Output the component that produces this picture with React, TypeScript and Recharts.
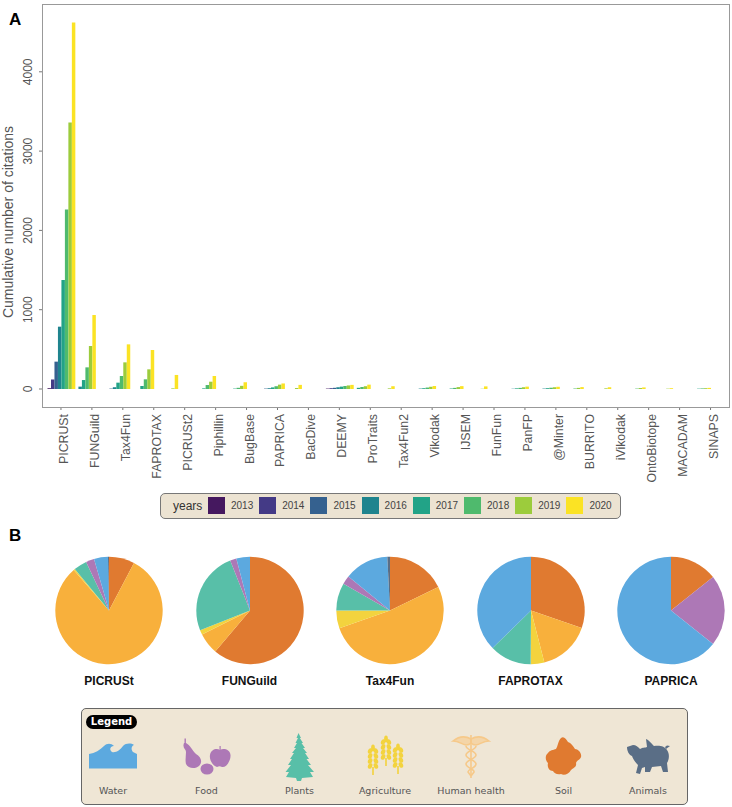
import { BarChart, Bar, XAxis, YAxis, Cell, PieChart, Pie } from "recharts";

const tools = [
  "PICRUSt", "FUNGuild", "Tax4Fun", "FAPROTAX", "PICRUSt2", "Piphillin", "BugBase", "PAPRICA",
  "BacDive", "DEEMY", "ProTraits", "Tax4Fun2", "Vikodak", "IJSEM", "FunFun", "PanFP",
  "@Minter", "BURRITO", "iVikodak", "OntoBiotope", "MACADAM", "SINAPS",
];
const firstYear = [
  2013, 2016, 2015, 2017, 2019, 2017, 2017, 2015, 2019, 2013, 2017, 2019, 2016, 2017, 2019, 2016,
  2016, 2018, 2019, 2018, 2019, 2017,
];
// cumulative citations per tool, one number per year from its first year on
const citations = [
  [10, 120, 345, 786, 1374, 2265, 3362, 4623],
  [30, 113, 273, 542, 933],
  [5, 22, 80, 164, 336, 563],
  [38, 122, 248, 492],
  [8, 177],
  [8, 50, 92, 164],
  [5, 15, 40, 85],
  [5, 10, 20, 35, 55, 70],
  [12, 52],
  [5, 10, 15, 22, 30, 38, 45, 52],
  [15, 25, 35, 55],
  [8, 35],
  [5, 10, 18, 28, 38],
  [6, 14, 24, 36],
  [3, 33],
  [4, 8, 14, 22, 30],
  [5, 10, 16, 22, 28],
  [6, 14, 24],
  [8, 22],
  [5, 12, 20],
  [4, 10],
  [4, 7, 10, 14],
];
const years = [2013, 2014, 2015, 2016, 2017, 2018, 2019, 2020];
const yearColors = ["#45185f", "#443a86", "#35618f", "#1f848e", "#22a387", "#4fba6d", "#9ccc3c", "#fbe324"];
const yTicks = [0, 1000, 2000, 3000, 4000];

const sources = ["Soil", "Human health", "Agriculture", "Plants", "Food", "Water", "Animals"];
const sourceColors: Record<string, string> = {
  Soil: "#e07a30",
  "Human health": "#f8b03c",
  Agriculture: "#f3d33e",
  Plants: "#58bfa8",
  Food: "#ad78b6",
  Water: "#5ca9df",
  Animals: "#5a6e86",
};
const pieNames = ["PICRUSt", "FUNGuild", "Tax4Fun", "FAPROTAX", "PAPRICA"];
const pieShares = [
  [7.7, 80.9, 0.4, 4, 2.5, 4.2, 0.3],
  [61.2, 6.4, 1.4, 25, 1.9, 4.1, 0],
  [17.8, 51.8, 5.4, 8.3, 2.6, 13.3, 0.8],
  [30.3, 15.7, 4.1, 12.6, 0, 37.3, 0],
  [14.3, 0, 0, 0, 21.4, 64.3, 0],
];

const slots = [0, 1, 2, 3, 4, 5, 6, 7];
const rows = tools.map((name, i) => {
  const row: Record<string, string | number> = { name };
  citations[i].forEach((v, k) => (row[`slot${k}`] = v));
  return row;
});

const SANS = "'Liberation Sans', Arial, sans-serif";
const GRAY = "#555";

function XTick({ x, y, payload }: any) {
  const tx = x + 7;
  const ty = y - 1;
  return (
    <g>
      <line x1={x} x2={x} y1={y - 8} y2={y - 5} stroke="#777" />
      <text x={tx} y={ty} transform={`rotate(-90 ${tx} ${ty})`} textAnchor="end" fontSize={12.3} fontFamily={SANS} fill={GRAY}>
        {payload.value}
      </text>
    </g>
  );
}

function YTick({ x, y, payload }: any) {
  const tx = x - 1.5;
  return (
    <g>
      <line x1={x + 5} x2={x + 8} y1={y} y2={y} stroke="#777" />
      <text x={tx} y={y} transform={`rotate(-90 ${tx} ${y})`} textAnchor="middle" fontSize={12} fontFamily={SANS} fill={GRAY}>
        {payload.value}
      </text>
    </g>
  );
}

const tag = (left: number, top: number, text: string) => (
  <div style={{ position: "absolute", left, top, font: `bold 17px ${SANS}`, color: "#000" }}>{text}</div>
);

function YearLegend() {
  return (
    <div
      style={{
        position: "absolute", left: 160, top: 493, width: 459, height: 24, background: "#ece3d2",
        border: "1px solid #777", borderRadius: 5,
      }}
    >
      <span style={{ position: "absolute", left: 12, top: 5, font: `12px ${SANS}`, color: "#333" }}>years</span>
      {years.map((yr, i) => (
        <div key={yr}>
          <div style={{ position: "absolute", left: 47 + i * 51.2, top: 3, width: 17, height: 17, background: yearColors[i] }} />
          <span style={{ position: "absolute", left: 70 + i * 51.2, top: 6, font: `10px ${SANS}`, color: "#444" }}>{yr}</span>
        </div>
      ))}
    </div>
  );
}

const legendLabels = [
  ["Water", 113], ["Food", 206.5], ["Plants", 299.5], ["Agriculture", 385],
  ["Human health", 471], ["Soil", 563.5], ["Animals", 648],
] as const;

function Wheat({ x, top }: { x: number; top: number }) {
  const rowsOfGrain = [6, 11, 16, 21];
  return (
    <g fill={sourceColors.Agriculture}>
      <ellipse cx={x} cy={top + 3} rx={1.9} ry={3.4} />
      {rowsOfGrain.map((d) => (
        <g key={d}>
          <ellipse cx={x - 2.9} cy={top + d} rx={2.1} ry={2.9} transform={`rotate(25 ${x - 2.9} ${top + d})`} />
          <ellipse cx={x + 2.9} cy={top + d} rx={2.1} ry={2.9} transform={`rotate(-25 ${x + 2.9} ${top + d})`} />
        </g>
      ))}
      <rect x={x - 0.8} y={top + 22} width={1.6} height={8} />
    </g>
  );
}

function LegendIcons() {
  const hh = "#f6c98a";
  return (
    <svg width={732} height={807} style={{ position: "absolute", left: 0, top: 0, pointerEvents: "none" }}>
      {/* water */}
      <path
        fill={sourceColors.Water}
        d="M89 768.5 L89 754 C95 753 100 750 104 746 C107 743 111 743 114 746 C110 746 109 750 112 752 C116 753 120 750 123 746 C126 743 131 743 134 745 C131 746 131 750 133 752 L137 754 L137 768.5 Z"
      />
      {/* food */}
      <g fill={sourceColors.Food}>
        <path d="M184 743 C182 748 186 749 186 752 C186 756 185 760 186 764 C188 769 196 769 199 766 C203 762 201 757 196 754 C192 750 190 745 186 743 Z" />
        <rect x={184.5} y={738.5} width={1.4} height={6} />
        <path d="M210 755 C211 749 217 748 220 750 C223 748 230 749 230.5 755 C231 761 226 768 222 767 C220 766 219 766 217 767 C213 766 209 760 210 755 Z" />
        <rect x={219.5} y={746} width={1.2} height={5} />
        <ellipse cx={207} cy={769} rx={6.5} ry={5.5} />
      </g>
      {/* plants */}
      <path
        fill={sourceColors.Plants}
        d="M298.5 733 L301 738 L299.8 738 L303 743 L301.5 743 L305 748 L303 748 L307 753 L305 753 L309 759 L306.5 759 L311 765 L308 765 L314 772 L310 772 L313 777 L302 778 L301 781 L297 781 L296 778 L286 777 L289 772 L285.5 772 L291 765 L288 765 L292 759 L290 759 L294 753 L292 753 L296 748 L294 748 L297 743 L295.5 743 L298 738 L296.5 738 Z"
      />
      {/* agriculture */}
      <Wheat x={373} top={745} />
      <Wheat x={386} top={736} />
      <Wheat x={398} top={744} />
      {/* human health */}
      <g fill="none" stroke={hh} strokeWidth={1.6}>
        <path d="M471 735 L471 778" />
        <path fill={hh} fillOpacity={0.6} d="M471 739 C464 735 458 737 453 741 C459 741 461 744 466 745 C468 745 470 744 471 743 Z" />
        <path fill={hh} fillOpacity={0.6} d="M471 739 C478 735 484 737 489 741 C483 741 481 744 476 745 C474 745 472 744 471 743 Z" />
        <path d="M466 746 C466 750 476 751 476 755 C476 759 466 760 466 764 C466 768 475 769 474 772 L471 776" />
        <path d="M476 746 C476 750 466 751 466 755 C466 759 476 760 476 764 C476 768 468 769 468 772 L471 776" />
      </g>
      {/* soil */}
      <path
        fill={sourceColors.Soil}
        d="M561 738 C564 736 566 739 568 742 C571 743 573 746 575 749 C578 749 582 753 581 757 C580 760 577 760 576 763 C577 767 573 768 571 770 C569 774 564 776 561 774 C557 775 554 773 553 771 C549 771 547 767 548 763 C545 760 545 755 548 753 C550 750 553 750 556 749 C558 746 558 741 561 738 Z"
      />
      {/* animals */}
      <g fill={sourceColors.Animals}>
        <path d="M627 747 L633 745 C636 745 638 747 640 749 C643 747 645 748 647 747 L646 739 C649 740 652 744 654 746 C659 745 665 746 667 750 C670 754 669 760 667 763 L668 772 L663 772 L661 766 L652 767 L650 772 L645 772 L645 767 L642 768 L640 774 L636 773 L638 765 C635 762 633 759 632 756 C629 755 627 751 627 747 Z" />
        <path d="M666 749 L670 746 L667 745.5 L665 747 Z" />
      </g>
    </svg>
  );
}

export default function App() {
  return (
    <div style={{ position: "absolute", left: 0, top: 0, width: 732, height: 807, background: "#fff", overflow: "hidden" }}>
      <div style={{ position: "absolute", left: 0, top: 0 }}>
        <BarChart
          width={732}
          height={520}
          data={rows}
          margin={{ top: 4, right: 3, left: 0, bottom: 0 }}
          barSize={3.48}
          barGap={0}
        >
          <XAxis
            dataKey="name"
            interval={0}
            height={113}
            axisLine={false}
            tickLine={false}
            tick={<XTick />}
            padding={{ left: 3.5, right: 3 }}
          />
          <YAxis
            width={42}
            domain={[-227, 4855]}
            ticks={yTicks}
            axisLine={false}
            tickLine={false}
            tick={<YTick />}
            allowDataOverflow
          />
          {slots.map((s) => (
            <Bar key={s} dataKey={`slot${s}`} isAnimationActive={false}>
              {tools.map((t, i) => (
                <Cell key={t} fill={yearColors[firstYear[i] - years[0] + s] ?? "#000"} />
              ))}
            </Bar>
          ))}
        </BarChart>
      </div>
      {/* panel frame */}
      <div style={{ position: "absolute", left: 42, top: 4, width: 686, height: 402, border: "1px solid #999", pointerEvents: "none" }} />
      <div
        style={{
          position: "absolute", left: 8, top: 222, transform: "translate(-50%, -50%) rotate(-90deg)",
          font: `14px ${SANS}`, color: GRAY, whiteSpace: "nowrap",
        }}
      >
        Cumulative number of citations
      </div>
      {tag(9, 10, "A")}
      {tag(9, 526, "B")}
      <YearLegend />

      {pieNames.map((name, i) => {
        const center = [109, 249.5, 390, 530.5, 671][i];
        const slices = sources.map((s, k) => ({ source: s, share: pieShares[i][k] }));
        return (
          <div key={name}>
            <div style={{ position: "absolute", left: center - 60, top: 550 }}>
              <PieChart width={120} height={120} margin={{ top: 0, right: 0, bottom: 0, left: 0 }}>
                <Pie
                  data={slices}
                  dataKey="share"
                  cx={60}
                  cy={60.5}
                  innerRadius={0}
                  outerRadius={53.7}
                  startAngle={90}
                  endAngle={-270}
                  stroke="none"
                  isAnimationActive={false}
                >
                  {slices.map((d) => (
                    <Cell key={d.source} fill={sourceColors[d.source]} />
                  ))}
                </Pie>
              </PieChart>
            </div>
            <div
              style={{
                position: "absolute", left: center - 60, top: 674, width: 120, textAlign: "center",
                font: `bold 12px ${SANS}`, color: "#111",
              }}
            >
              {name}
            </div>
          </div>
        );
      })}

      <div
        style={{
          position: "absolute", left: 81, top: 708, width: 605, height: 95, background: "#efe6d5",
          border: "1px solid #666", borderRadius: 5,
        }}
      />
      <div
        style={{
          position: "absolute", left: 86, top: 715, width: 51, height: 14, background: "#000", borderRadius: 7,
          color: "#fff", font: "bold 10px 'DejaVu Sans', sans-serif", textAlign: "center", lineHeight: "14px",
        }}
      >
        Legend
      </div>
      <LegendIcons />
      {legendLabels.map(([label, cx]) => (
        <div
          key={label}
          style={{
            position: "absolute", left: cx - 50, top: 785, width: 100, textAlign: "center",
            font: "9.5px 'DejaVu Sans', sans-serif", color: "#555",
          }}
        >
          {label}
        </div>
      ))}
    </div>
  );
}
